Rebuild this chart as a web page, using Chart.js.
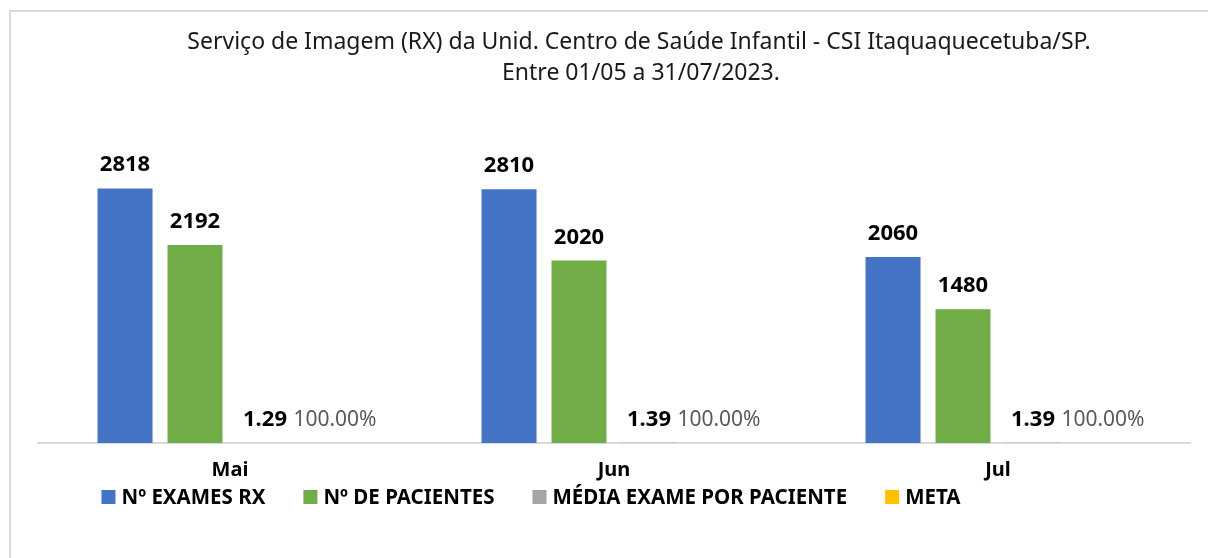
<!DOCTYPE html>
<html>
<head>
<meta charset="utf-8">
<script src="https://cdn.jsdelivr.net/npm/chart.js@4/dist/chart.umd.min.js"></script>
<style>
  html, body { margin: 0; padding: 0; background: #fff; }
</style>
</head>
<body>
<canvas id="rxChart" width="1208" height="558"></canvas>
<script>
// data
const months = ['Mai', 'Jun', 'Jul'];
const exames = [2818, 2810, 2060];
const pacientes = [2192, 2020, 1480];
const mediaExame = [1.29, 1.39, 1.39];
const metaPct = [1, 1, 1]; // 100%
const seriesNames = ['Nº EXAMES RX', 'Nº DE PACIENTES', 'MÉDIA EXAME POR PACIENTE', 'META'];
const titleLines = [
  'Serviço de Imagem (RX) da Unid. Centro de Saúde Infantil - CSI Itaquaquecetuba/SP.',
  'Entre 01/05 a 31/07/2023.'
];

const colors = ['#4472c4', '#70ad47', '#a5a5a5', '#ffc000'];
const FONT = "'Noto Sans', 'Open Sans', sans-serif";

// white background + light frame like the excel chart box
const framePlugin = {
  id: 'frame',
  beforeDraw(chart) {
    const ctx = chart.ctx;
    ctx.save();
    ctx.fillStyle = '#fff';
    ctx.fillRect(0, 0, chart.width, chart.height);
    ctx.strokeStyle = '#d9d9d9';
    ctx.lineWidth = 2;
    ctx.beginPath();
    ctx.moveTo(10, chart.height + 5);
    ctx.lineTo(10, 11);
    ctx.lineTo(chart.width + 5, 11);
    ctx.stroke();
    ctx.restore();
  }
};

// two-line title, a bit right of centre
const titlePlugin = {
  id: 'twoLineTitle',
  afterDraw(chart) {
    const ctx = chart.ctx;
    ctx.save();
    ctx.fillStyle = '#1a1a1a';
    ctx.font = '23px ' + FONT;
    ctx.textAlign = 'center';
    ctx.textBaseline = 'middle';
    ctx.fillText(titleLines[0], 639, 42);
    ctx.fillText(titleLines[1], 641, 73);
    ctx.restore();
  }
};

// value labels above every bar
const valueLabels = {
  id: 'valueLabels',
  afterDatasetsDraw(chart) {
    const ctx = chart.ctx;
    ctx.save();
    ctx.textAlign = 'center';
    ctx.textBaseline = 'alphabetic';
    chart.data.datasets.forEach((ds, i) => {
      const meta = chart.getDatasetMeta(i);
      meta.data.forEach((bar, j) => {
        const v = ds.data[j];
        let txt;
        if (i === 3) {
          txt = (v * 100).toFixed(2) + '%';
          ctx.font = '21px ' + FONT;
          ctx.fillStyle = '#595959';
        } else {
          txt = i === 2 ? v.toFixed(2) : String(v);
          ctx.font = 'bold 22px ' + FONT;
          ctx.fillStyle = '#000';
        }
        ctx.fillText(txt, bar.x, bar.y - 17);
      });
    });
    ctx.restore();
  }
};

// legend row under the month labels
const legendRow = {
  id: 'legendRow',
  afterDraw(chart) {
    const ctx = chart.ctx;
    const box = 14, gapBox = 6, gapItem = 38, cy = 497, centerX = 531;
    ctx.save();
    ctx.font = 'bold 20.5px ' + FONT;
    ctx.textBaseline = 'middle';
    ctx.textAlign = 'left';
    const widths = chart.data.datasets.map(d => ctx.measureText(d.label).width);
    let total = widths.reduce((a, w) => a + box + gapBox + w, 0) + gapItem * (widths.length - 1);
    let x = centerX - total / 2;
    chart.data.datasets.forEach((d, i) => {
      ctx.fillStyle = d.backgroundColor;
      ctx.fillRect(x, cy - box / 2, box, box);
      ctx.fillStyle = '#000';
      ctx.fillText(d.label, x + box + gapBox, cy + 1);
      x += box + gapBox + widths[i] + gapItem;
    });
    ctx.restore();
  }
};

const seriesData = [exames, pacientes, mediaExame, metaPct];

const config = {
  type: 'bar',
  data: {
    labels: months,
    datasets: seriesData.map((vals, i) => ({
      label: seriesNames[i],
      data: vals,
      backgroundColor: colors[i],
      borderWidth: 0,
      barPercentage: 0.786,
      categoryPercentage: 0.729
    }))
  },
  options: {
    responsive: false,
    animation: false,
    layout: { padding: { left: 38, right: 18, top: 172, bottom: 61 } },
    plugins: {
      legend: { display: false },
      title: { display: false },
      tooltip: { enabled: true }
    },
    scales: {
      x: {
        grid: { display: false, drawTicks: false },
        border: { color: '#d9d9d9', width: 2 },
        ticks: {
          color: '#000',
          padding: 15,
          font: { family: FONT, size: 20, weight: 'bold' }
        }
      },
      y: {
        display: false,
        min: 0,
        max: 3000
      }
    }
  },
  plugins: [framePlugin, titlePlugin, valueLabels, legendRow]
};

const rxChart = new Chart(document.getElementById('rxChart'), config);
</script>
</body>
</html>
